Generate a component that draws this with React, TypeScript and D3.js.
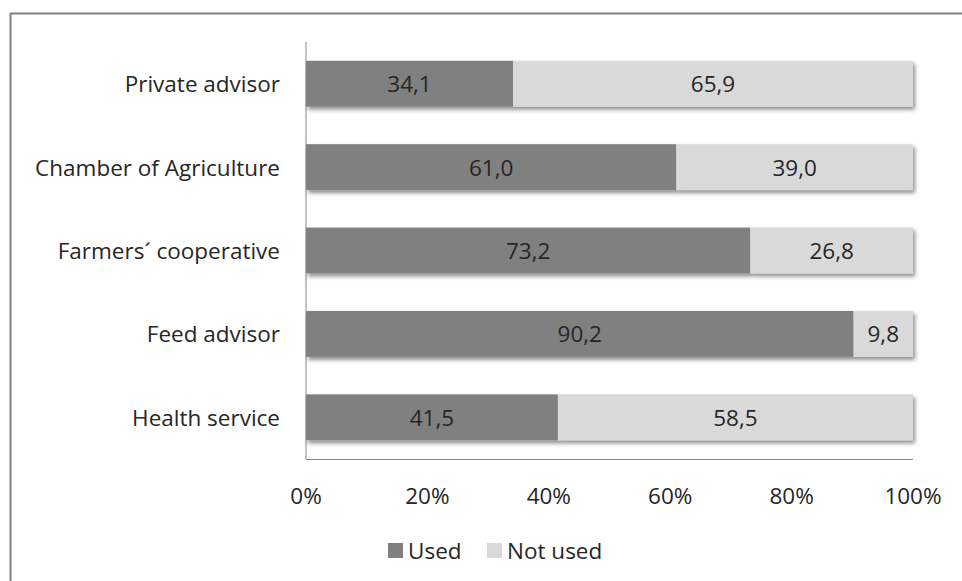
import React from "react";
import * as d3 from "d3";

const categories = ["Private advisor", "Chamber of Agriculture", "Farmers´ cooperative", "Feed advisor", "Health service"];
const usedValues = [34.1, 61.0, 73.2, 90.2, 41.5];
const notUsedValues = [65.9, 39.0, 26.8, 9.8, 58.5];
const tickValues = [0, 20, 40, 60, 80, 100];
const seriesNames = ["Used", "Not used"];
const seriesColors = ["#808080", "#d9d9d9"];

const FONT = "'Open Sans', sans-serif";
const TEXT = "#262626";
const FS = 22.5;

export default function App() {
  const W = 962, H = 581;
  const x = d3.scaleLinear().domain([0, 100]).range([306, 913]);
  const y = d3.scaleBand<string>().domain(categories).range([42, 459]).paddingInner(0.45).paddingOuter(0.225);
  const fmt = (v: number) => v.toFixed(1).replace(".", ",");
  const bw = y.bandwidth();

  return (
    <svg width={W} height={H} style={{ position: "absolute", left: 0, top: 0, background: "#fff" }} fontFamily={FONT}>
      <defs>
        <filter id="sh" x="-5%" y="-20%" width="115%" height="160%">
          <feGaussianBlur in="SourceAlpha" stdDeviation="2" />
          <feOffset dx="2" dy="3" result="b" />
          <feComponentTransfer><feFuncA type="linear" slope="0.45" /></feComponentTransfer>
          <feMerge><feMergeNode /><feMergeNode in="SourceGraphic" /></feMerge>
        </filter>
      </defs>
      <rect x={0} y={0} width={W} height={H} fill="#fff" />
      {/* chart border */}
      <line x1={10.5} x2={W} y1={13.5} y2={13.5} stroke="#7f7f7f" strokeWidth={2} />
      <line x1={10.5} x2={10.5} y1={13} y2={H} stroke="#7f7f7f" strokeWidth={2} />
      {/* axes */}
      <line x1={x(0)} x2={x(0)} y1={42} y2={459} stroke="#868686" strokeWidth={1} />
      <line x1={x(0)} x2={x(100)} y1={459.5} y2={459.5} stroke="#868686" strokeWidth={1} />
      {/* bars */}
      <g filter="url(#sh)">
        {categories.map((c, i) => (
          <g key={c}>
            <rect x={x(0)} y={y(c)} width={x(usedValues[i]) - x(0)} height={bw} fill={seriesColors[0]} />
            <rect x={x(usedValues[i])} y={y(c)} width={x(usedValues[i] + notUsedValues[i]) - x(usedValues[i])} height={bw} fill={seriesColors[1]} />
          </g>
        ))}
      </g>
      {categories.map((c, i) => {
        const cy = (y(c) as number) + bw / 2;
        return (
          <g key={"t" + c} fontSize={FS} fill={TEXT}>
            <text x={280} y={cy} textAnchor="end" dominantBaseline="central">{c}</text>
            <text x={(x(0) + x(usedValues[i])) / 2} y={cy} textAnchor="middle" dominantBaseline="central">{fmt(usedValues[i])}</text>
            <text x={(x(usedValues[i]) + x(100)) / 2} y={cy} textAnchor="middle" dominantBaseline="central">{fmt(notUsedValues[i])}</text>
          </g>
        );
      })}
      {tickValues.map((t) => (
        <text key={t} x={x(t)} y={495} textAnchor="middle" dominantBaseline="central" fontSize={FS} fill={TEXT}>{t + "%"}</text>
      ))}
      {/* legend */}
      <g fontSize={FS} fill={TEXT}>
        <rect x={388} y={543} width={15} height={15} fill={seriesColors[0]} />
        <text x={408} y={550} dominantBaseline="central">{seriesNames[0]}</text>
        <rect x={487} y={543} width={15} height={15} fill={seriesColors[1]} />
        <text x={507} y={550} dominantBaseline="central">{seriesNames[1]}</text>
      </g>
    </svg>
  );
}
